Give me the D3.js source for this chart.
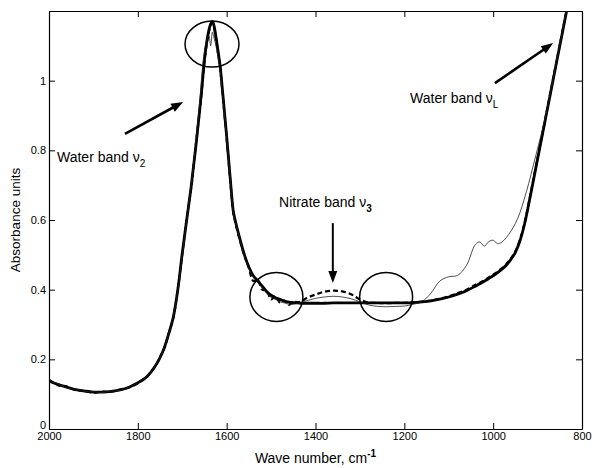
<!DOCTYPE html>
<html>
<head>
<meta charset="utf-8">
<script src="https://cdn.jsdelivr.net/npm/d3@7"></script>
<style>
  body { margin: 0; background: #fff; }
  svg { display: block; font-family: "Liberation Sans", Arial, sans-serif; }
</style>
</head>
<body>
<div id="chart"></div>
<script>
/* Wave numbers (cm-1) shared by all spectra */
const wavenumbers = [
  2000, 1980, 1960, 1940, 1920, 1900, 1880, 1860, 1840, 1820,
  1800, 1790, 1780, 1770, 1760, 1750, 1740, 1730, 1720, 1710,
  1700, 1690, 1680, 1670, 1660, 1655, 1650, 1645, 1640, 1636,
  1632, 1628, 1624, 1620, 1615, 1610, 1605, 1600, 1595, 1590,
  1585, 1580, 1570, 1560, 1550, 1540, 1530, 1520, 1510, 1500,
  1490, 1480, 1470, 1460, 1450, 1440, 1430, 1420, 1400, 1380,
  1360, 1340, 1320, 1300, 1280, 1260, 1240, 1220, 1200, 1180,
  1160, 1140, 1120, 1100, 1080, 1060, 1040, 1030, 1020, 1010,
  1000, 990, 980, 970, 960, 950, 940, 930, 920, 910,
  900, 890, 880, 870, 860, 850, 840, 830, 820,
];

// Thick solid spectrum
const spectrumThick = [
  .138, .128, .120, .113, .109, .106, .106, .108, .112, .120,
  .133, .140, .150, .164, .182, .205, .235, .275, .322, .400,
  .505, .600, .695, .805, .925, .990, 1.06, 1.11, 1.145, 1.163,
  1.17, 1.155, 1.125, 1.09, 1.045, .980, .910, .840, .765, .690,
  .625, .595, .545, .500, .465, .440, .425, .410, .395, .384,
  .377, .372, .367, .364, .363, .362, .361, .361, .361, .361,
  .362, .362, .362, .362, .362, .362, .362, .362, .362, .363,
  .365, .368, .373, .379, .387, .397, .410, .417, .424, .432,
  .440, .449, .459, .471, .487, .507, .539, .585, .645, .710,
  .775, .840, .905, .970, 1.035, 1.10, 1.165, 1.23, 1.295,
];

// Dashed spectrum (nitrate band visible)
const spectrumDashed = [
  .142, .126, .122, .111, .110, .104, .107, .107, .113, .119,
  .131, .141, .149, .166, .181, .207, .233, .277, .320, .402,
  .500, .605, .690, .810, .920, .985, 1.055, 1.105, 1.14, 1.16,
  1.165, 1.15, 1.12, 1.085, 1.04, .975, .905, .835, .760, .685,
  .620, .590, .540, .497, .462, .425, .428, .400, .398, .372,
  .380, .363, .369, .356, .366, .364, .368, .376, .386, .394,
  .397, .395, .387, .372, .363, .362, .361, .362, .362, .364,
  .366, .369, .374, .381, .390, .400, .414, .420, .427, .435,
  .443, .452, .462, .474, .490, .510, .542, .588, .648, .713,
  .778, .843, .908, .973, 1.038, 1.103, 1.168, 1.233, 1.298,
];

// Thin solid spectrum
const spectrumThin = [
  .136, .130, .118, .115, .108, .107, .105, .109, .111, .121,
  .132, .139, .151, .163, .183, .204, .237, .274, .324, .398,
  .500, .600, .700, .820, .950, 1.03, 1.085, 1.115, 1.13, 1.10,
  1.14, 1.12, 1.10, 1.07, 1.03, .970, .905, .835, .765, .690,
  .620, .592, .543, .497, .460, .437, .420, .405, .390, .378,
  .372, .365, .362, .358, .358, .360, .364, .368, .375, .379,
  .381, .379, .374, .365, .356, .352, .351, .352, .353, .358,
  .366, .390, .425, .437, .441, .470, .530, .537, .525, .538,
  .542, .532, .537, .550, .568, .590, .620, .660, .705, .755,
  .805, .855, .908, .973, 1.038, 1.103, 1.168, 1.233, 1.298,
];

const xTicks = [2000, 1800, 1600, 1400, 1200, 1000, 800];
const yTicks = [0, 0.2, 0.4, 0.6, 0.8, 1];

// Chart size
const width = 594, height = 468;
const margin = { top: 11, right: 12, bottom: 39, left: 49 };

const svg = d3.select('#chart').append('svg')
  .attr('width', width)
  .attr('height', height);

const x = d3.scaleLinear().domain([2000, 800]).range([margin.left, width - margin.right]);
const y = d3.scaleLinear().domain([0, 1.2]).range([height - margin.bottom, margin.top]);

// Clip for the spectra
svg.append('clipPath').attr('id', 'plot-clip')
  .append('rect')
  .attr('x', margin.left).attr('y', margin.top)
  .attr('width', x.range()[1] - margin.left)
  .attr('height', y.range()[0] - margin.top);

// Axes (ticks pointing inward)
const fmtY = d3.format('~g');
const gx = svg.append('g')
  .attr('transform', `translate(0,${y(0)})`)
  .call(d3.axisBottom(x).tickValues(xTicks).tickFormat(d3.format('d'))
    .tickSize(-6).tickSizeOuter(0).tickPadding(3));
const gy = svg.append('g')
  .attr('transform', `translate(${margin.left},0)`)
  .call(d3.axisLeft(y).tickValues(yTicks).tickFormat(fmtY)
    .tickSize(-6).tickSizeOuter(0).tickPadding(3));
const gt = svg.append('g')
  .attr('transform', `translate(0,${margin.top})`)
  .call(d3.axisTop(x).tickValues(xTicks).tickFormat('')
    .tickSize(-6).tickSizeOuter(0));
const gr = svg.append('g')
  .attr('transform', `translate(${x.range()[1]},0)`)
  .call(d3.axisRight(y).tickValues(yTicks).tickFormat('')
    .tickSize(-6).tickSizeOuter(0));

[gx, gy, gt, gr].forEach((g) => {
  g.selectAll('path.domain').attr('stroke', '#000').attr('stroke-width', 1.2);
  g.selectAll('.tick line').attr('stroke', '#000').attr('stroke-width', 1);
  g.selectAll('.tick text').attr('fill', '#000')
    .style('font-size', '11px')
    .style('font-family', '"Liberation Sans", Arial, sans-serif');
});

// the "0" label sits just above "2000", as in the original
gy.selectAll('.tick text').filter((d) => d === 0).attr('dy', '-0.08em');

// Axis titles
svg.append('text')
  .attr('x', (x.range()[0] + x.range()[1]) / 2)
  .attr('y', 463)
  .attr('text-anchor', 'middle')
  .style('font-size', '14px')
  .text('Wave number, cm')
  .append('tspan')
  .attr('dy', -6)
  .style('font-size', '10px')
  .style('font-weight', 'bold')
  .text('-1');

svg.append('text')
  .attr('transform', `translate(20,${(y.range()[0] + y.range()[1]) / 2}) rotate(-90)`)
  .attr('text-anchor', 'middle')
  .style('font-size', '13.5px')
  .text('Absorbance units');

// Spectra
const toPoints = (values) => wavenumbers.map((w, i) => [w, values[i]]);
const line = d3.line()
  .x((d) => x(d[0]))
  .y((d) => y(d[1]))
  .curve(d3.curveCatmullRom.alpha(0.5));

const plot = svg.append('g').attr('clip-path', 'url(#plot-clip)');

plot.append('path')
  .attr('d', line(toPoints(spectrumThick)))
  .attr('fill', 'none')
  .attr('stroke', '#000')
  .attr('stroke-width', 2.8);

plot.append('path')
  .attr('d', line(toPoints(spectrumDashed)))
  .attr('fill', 'none')
  .attr('stroke', '#000')
  .attr('stroke-width', 2.2)
  .attr('stroke-dasharray', '5,3');

plot.append('path')
  .attr('d', line(toPoints(spectrumThin)))
  .attr('fill', 'none')
  .attr('stroke', '#222')
  .attr('stroke-width', 0.8);

/* Annotations */
// Circles
const circles = [
  { w: 1633, a: 1.105, rx: 27, ry: 23 },
  { w: 1488, a: 0.379, rx: 26.5, ry: 24.5 },
  { w: 1241, a: 0.379, rx: 26.5, ry: 24.5 },
];
svg.selectAll('ellipse.mark')
  .data(circles)
  .join('ellipse')
  .attr('class', 'mark')
  .attr('cx', (d) => x(d.w))
  .attr('cy', (d) => y(d.a))
  .attr('rx', (d) => d.rx)
  .attr('ry', (d) => d.ry)
  .attr('fill', 'none')
  .attr('stroke', '#000')
  .attr('stroke-width', 1.5);

// Arrows
const arrows = [
  { from: [1829, 0.847], to: [1698, 0.939], sw: 2.6 },
  { from: [996, 0.993], to: [865, 1.108], sw: 2.6 },
  { from: [1361, 0.591], to: [1361, 0.419], sw: 2 },
];
const headLen = 12, headHalf = 4.5;
arrows.forEach((d) => {
  const x0 = x(d.from[0]), y0 = y(d.from[1]);
  const x1 = x(d.to[0]), y1 = y(d.to[1]);
  const ang = Math.atan2(y1 - y0, x1 - x0);
  const cos = Math.cos(ang), sin = Math.sin(ang);
  svg.append('line')
    .attr('x1', x0).attr('y1', y0)
    .attr('x2', x1 - cos * (headLen - 2)).attr('y2', y1 - sin * (headLen - 2))
    .attr('stroke', '#000')
    .attr('stroke-width', d.sw);
  const bx = x1 - cos * headLen, by = y1 - sin * headLen;
  svg.append('path')
    .attr('d', `M${x1},${y1}L${bx - sin * headHalf},${by + cos * headHalf}L${bx + sin * headHalf},${by - cos * headHalf}Z`)
    .attr('fill', '#000');
});

// Labels
const labels = [
  { w: 1982, a: 0.767, main: 'Water band \u03bd', sub: '2', bold: false },
  { w: 1187, a: 0.936, main: 'Water band \u03bd', sub: 'L', bold: false },
  { w: 1482, a: 0.637, main: 'Nitrate band \u03bd', sub: '3', bold: true },
];
labels.forEach((d) => {
  const t = svg.append('text')
    .attr('x', x(d.w))
    .attr('y', y(d.a))
    .style('font-size', '14px')
    .text(d.main);
  t.append('tspan')
    .attr('dy', 5)
    .style('font-size', '10px')
    .style('font-weight', d.bold ? 'bold' : 'normal')
    .text(d.sub);
});
</script>
</body>
</html>
